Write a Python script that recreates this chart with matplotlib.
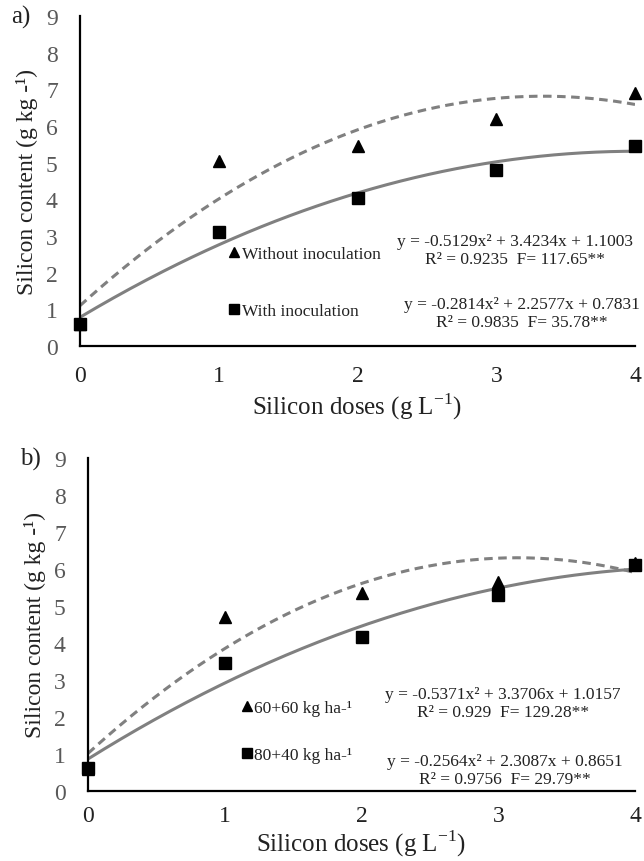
import numpy as np
import matplotlib
matplotlib.use("Agg")
import matplotlib.pyplot as plt

plt.rcParams['font.family'] = ['Liberation Serif', 'DejaVu Serif']

# silicon doses (g L-1)
doses = [0, 1, 2, 3, 4]

# panel a
a_without = [0.6, 5.05, 5.45, 6.2, 6.9]
a_with = [0.6, 3.1, 4.05, 4.8, 5.45]
a_coef_without = [-0.5129, 3.4234, 1.1003]
a_coef_with = [-0.2814, 2.2577, 0.7831]
a_labels = ["Without inoculation", "With inoculation"]
a_eq = ["y = -0.5129x² + 3.4234x + 1.1003\nR² = 0.9235  F= 117.65**",
        "y = -0.2814x² + 2.2577x + 0.7831\nR² = 0.9835  F= 35.78**"]

# panel b
b_60 = [0.6, 4.7, 5.35, 5.65, 6.15]
b_80 = [0.62, 3.45, 4.15, 5.3, 6.1]
b_coef_60 = [-0.5371, 3.3706, 1.0157]
b_coef_80 = [-0.2564, 2.3087, 0.8651]
b_labels = ["60+60 kg ha-¹", "80+40 kg ha-¹"]
b_eq = ["y = -0.5371x² + 3.3706x + 1.0157\nR² = 0.929  F= 129.28**",
        "y = -0.2564x² + 2.3087x + 0.8651\nR² = 0.9756  F= 29.79**"]

fig = plt.figure(figsize=(6.44, 8.62), dpi=100)
ax_a = fig.add_axes([80/644, 1-347/862, 555/644, 330/862])
ax_b = fig.add_axes([88/644, 1-792/862, 547/644, 333/862])

GRAY = "#808080"


def draw_panel(ax, tri, sq, c_tri, c_sq, labels, eqs, tag, leg_x, leg_y, leg_sp,
               eq_pos, xpad, xlabpad):
    xs = np.linspace(0, 4, 200)
    ax.plot(xs, np.polyval(c_tri, xs), color=GRAY, lw=2.2, ls=(0, (2.8, 1.8)), zorder=2)
    ax.plot(xs, np.polyval(c_sq, xs), color=GRAY, lw=2.2, zorder=2)
    ax.plot(doses, tri, ls="none", marker="^", ms=9, color="black", label=labels[0],
            clip_on=False, zorder=3)
    ax.plot(doses, sq, ls="none", marker="s", ms=9, color="black", label=labels[1],
            clip_on=False, zorder=3)

    ax.set_xlim(0, 4)
    ax.set_ylim(0, 9)
    ax.set_xticks(range(5))
    ax.set_yticks(range(10))
    for s in ["top", "right"]:
        ax.spines[s].set_visible(False)
    for s in ["left", "bottom"]:
        ax.spines[s].set_linewidth(1.6)
    ax.tick_params(length=0)
    ax.tick_params(axis="x", labelsize=17, pad=xpad, labelcolor="#222222")
    ax.tick_params(axis="y", labelsize=17, pad=16, labelcolor="#595959")
    ax.set_ylabel("Silicon content (g kg -¹)", fontsize=17, color="#222222", labelpad=6)
    ax.set_xlabel("Silicon doses (g L$^{\\mathregular{-1}}$)", fontsize=18,
                  color="#222222", labelpad=xlabpad)

    leg = ax.legend(loc="upper left", bbox_to_anchor=(leg_x, leg_y), frameon=False,
                    handlelength=0.6, handletextpad=0.15, labelspacing=leg_sp,
                    markerscale=0.8, prop={"size": 12.5})
    for t in leg.get_texts():
        t.set_color("#222222")

    for e, (x, y) in zip(eqs, eq_pos):
        ax.text(x, y, e, transform=ax.transAxes, ha="center", va="center",
                fontsize=12.5, color="#222222", linespacing=1.2)

    ax.text(-0.125, 1.0, tag, transform=ax.transAxes, fontsize=18, va="center",
            color="#222222")


draw_panel(ax_a, a_without, a_with, a_coef_without, a_coef_with, a_labels, a_eq,
           "a)", 0.24, 0.35, 2.35, [(0.784, 0.29), (0.796, 0.10)], 14, 3)
draw_panel(ax_b, b_60, b_80, b_coef_60, b_coef_80, b_labels, b_eq,
           "b)", 0.252, 0.32, 1.75, [(0.759, 0.264), (0.762, 0.063)], 10, 1)

fig.savefig("out.png", dpi=100)
